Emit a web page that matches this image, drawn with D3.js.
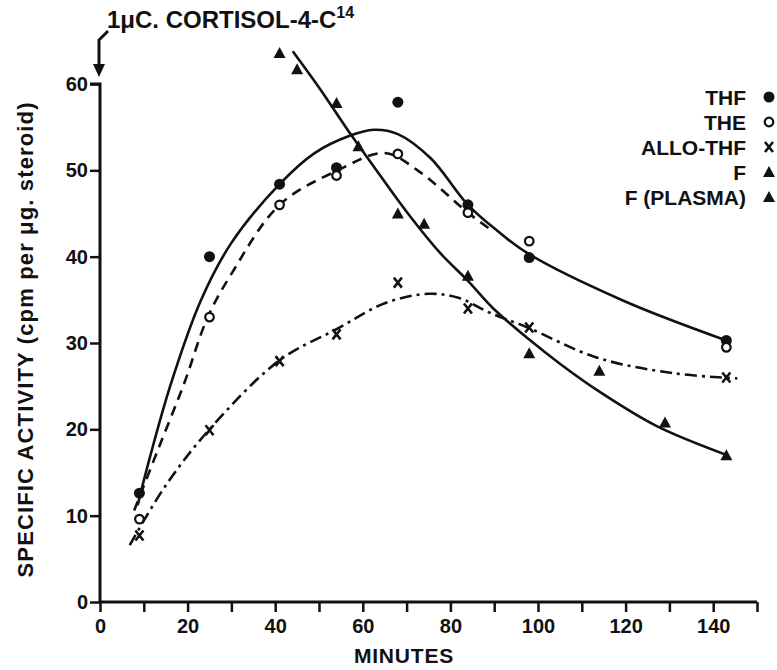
<!DOCTYPE html>
<html>
<head>
<meta charset="utf-8">
<script src="https://cdn.jsdelivr.net/npm/d3@7"></script>
<style>
  body { margin: 0; background: #fff; }
  text { font-family: "Liberation Sans", Arial, sans-serif; font-weight: bold; fill: #111; }
</style>
</head>
<body>
<svg id="chart" width="777" height="670"></svg>
<script>
// sampling times (minutes) for the urine steroids
var urineMinutes = [9, 25, 41, 54, 68, 84, 98, 143];
var thfValues = [12.6, 40, 48.4, 50.3, 57.9, 46, 39.9, 30.3];
var theValues = [9.6, 33, 46, 49.4, 51.9, 45.1, 41.8, 29.5];
var alloValues = [7.7, 19.9, 27.9, 31, 37, 34, 31.8, 26];
var fMinutes = [41, 54, 68, 84, 98, 143];
var fValues = [63.6, 57.8, 45, 37.8, 28.8, 17];
var plasmaMinutes = [45, 59, 74, 114, 129];
var plasmaValues = [61.7, 52.8, 43.8, 26.8, 20.8];

// hand drawn fitted curves as [minute, value]
var thfCurve = [[8.6, 11.2], [11.2, 16.4], [16.2, 25.3], [23, 34.9], [30, 41.6], [41, 48.4],
  [49, 52], [57, 54], [62.5, 54.7], [68, 54.2], [75.5, 51.4], [84, 46], [90.7, 43],
  [97.6, 40.4], [119.5, 34.9], [143, 30.3]];
var theCurve = [[7.8, 10.6], [13.2, 17.6], [19.2, 25.3], [24.6, 33], [30, 38], [41, 46],
  [54.3, 50], [65, 52], [72.5, 50], [84, 45.1], [89, 43.2]];
var alloCurve = [[6.8, 6.6], [15, 13.5], [25, 20], [41, 28], [54, 31.6], [65, 34.6],
  [75, 35.7], [82, 35.2], [89, 33.5], [97.6, 31.8], [113.5, 28.3], [131, 26.5], [145.5, 25.9]];
var fCurve = [[44, 63.8], [50, 59.6], [57.2, 54.2], [62, 50.8], [70, 45.2], [77.7, 40.4],
  [84, 37.2], [89.8, 34], [98, 30.4], [105, 27.6], [114.2, 24.3], [127, 20.4], [143.2, 17]];

var legendLabels = ["THF", "THE", "ALLO-THF", "F", "F (PLASMA)"];
var legendSymbols = ["dot", "ring", "cross", "tri", "tri"];

var xTicks = d3.range(0, 151, 10);
var yTicks = d3.range(0, 61, 10);

var svg = d3.select("#chart");

var x = d3.scaleLinear().domain([0, 150]).range([100, 757]);
var y = d3.scaleLinear().domain([0, 60]).range([602, 84]);

// axes
var xAxis = svg.append("g")
    .attr("transform", "translate(0," + y(0) + ")")
    .call(d3.axisBottom(x).tickValues(xTicks).tickSize(10).tickPadding(7)
        .tickFormat(function (d) { return d % 20 === 0 ? d : ""; }));
var yAxis = svg.append("g")
    .attr("transform", "translate(" + x(0) + ",0)")
    .call(d3.axisLeft(y).tickValues(yTicks).tickSize(10).tickPadding(2));

[xAxis, yAxis].forEach(function (a) {
    a.select(".domain").attr("stroke", "#111").attr("stroke-width", 3);
    a.selectAll(".tick line").attr("stroke", "#111").attr("stroke-width", 2.5);
    a.selectAll(".tick text").style("font-size", "20px").attr("fill", "#111");
});
yAxis.select(".domain").attr("d", "M-10," + y(60) + "H0V" + y(0));
xAxis.select(".domain").attr("d", "M" + x(0) + ",0H" + x(150));

// curves
var line = d3.line()
    .x(function (d) { return x(d[0]); })
    .y(function (d) { return y(d[1]); })
    .curve(d3.curveCatmullRom.alpha(0.5));

function drawCurve(pts, dash) {
    svg.append("path")
        .attr("d", line(pts))
        .attr("fill", "none")
        .attr("stroke", "#111")
        .attr("stroke-width", 2.6)
        .attr("stroke-dasharray", dash);
}
drawCurve(thfCurve, null);
drawCurve(theCurve, "10,7");
drawCurve(alloCurve, "12,5,3,5");
drawCurve(fCurve, null);

// markers
function zip(xs, ys) { return xs.map(function (m, i) { return [m, ys[i]]; }); }

function symbol(g, kind) {
    if (kind === "dot") {
        g.append("circle").attr("r", 5.5).attr("fill", "#111");
    } else if (kind === "ring") {
        g.append("circle").attr("r", 4.3).attr("fill", "#fff")
            .attr("stroke", "#111").attr("stroke-width", 2.2);
    } else if (kind === "cross") {
        g.append("path").attr("d", "M-4,-5L4,5M4,-5L-4,5")
            .attr("stroke", "#111").attr("stroke-width", 2.6);
    } else {
        g.append("path").attr("d", "M0,-6L6,5L-6,5Z").attr("fill", "#111");
    }
}

function drawPoints(xs, ys, kind) {
    svg.append("g").selectAll("g")
        .data(zip(xs, ys))
        .enter().append("g")
        .attr("transform", function (d) { return "translate(" + x(d[0]) + "," + y(d[1]) + ")"; })
        .each(function () { symbol(d3.select(this), kind); });
}
drawPoints(urineMinutes, thfValues, "dot");
drawPoints(urineMinutes, theValues, "ring");
drawPoints(urineMinutes, alloValues, "cross");
drawPoints(fMinutes, fValues, "tri");
drawPoints(plasmaMinutes, plasmaValues, "tri");

// legend
var legend = svg.append("g").selectAll("g")
    .data(legendLabels)
    .enter().append("g")
    .attr("transform", function (d, i) { return "translate(0," + (97 + i * 25) + ")"; });
legend.append("text")
    .attr("x", 746)
    .attr("y", 7.5)
    .attr("text-anchor", "end")
    .style("font-size", "21px")
    .text(function (d) { return d; });
legend.append("g")
    .attr("transform", "translate(769,0)")
    .each(function (d, i) { symbol(d3.select(this), legendSymbols[i]); });

// injection annotation
var note = svg.append("text")
    .attr("x", 107)
    .attr("y", 28)
    .style("font-size", "24px");
note.append("tspan").text("1\u03BCC. CORTISOL-4-C");
note.append("tspan").attr("dy", -10).style("font-size", "16px").text("14");

svg.append("path")
    .attr("d", "M108,31L99,40V68")
    .attr("fill", "none")
    .attr("stroke", "#111")
    .attr("stroke-width", 3);
svg.append("path")
    .attr("d", "M93,64L105,64L99,77Z")
    .attr("fill", "#111");

// axis titles
svg.append("text")
    .attr("x", 404)
    .attr("y", 663)
    .attr("text-anchor", "middle")
    .style("font-size", "21px")
    .style("letter-spacing", "0.8px")
    .text("MINUTES");

svg.append("text")
    .attr("transform", "translate(33,340) rotate(-90)")
    .attr("text-anchor", "middle")
    .attr("textLength", 475)
    .attr("lengthAdjust", "spacing")
    .style("font-size", "22px")
    .text("SPECIFIC ACTIVITY (cpm per \u03BCg. steroid)");
</script>
</body>
</html>
